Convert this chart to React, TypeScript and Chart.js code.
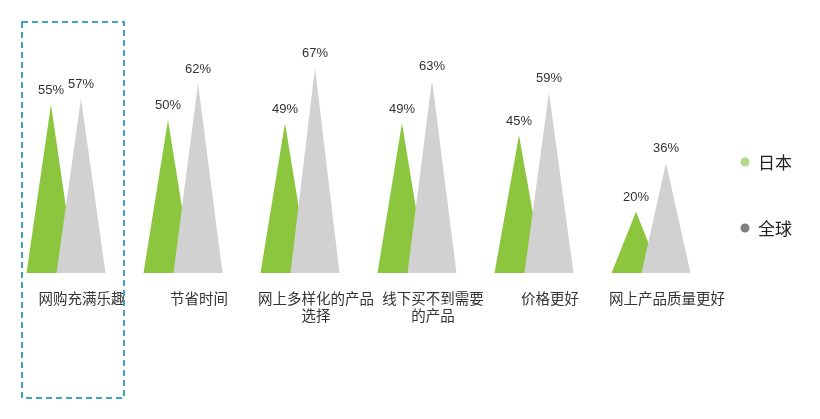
import React, { useEffect, useRef } from "react";
import { Chart, registerables } from "chart.js";

Chart.register(...registerables);

const categories: (string | string[])[] = [
  "网购充满乐趣",
  "节省时间",
  ["网上多样化的产品", "选择"],
  ["线下买不到需要", "的产品"],
  "价格更好",
  "网上产品质量更好",
];
const seriesNames = ["日本", "全球"];
const japanValues = [55, 50, 49, 49, 45, 20];
const globalValues = [57, 62, 67, 63, 59, 36];

const barColors = ["#8cc63f", "#d2d1d2"];
const legendColors = ["#b4d98c", "#7f7f7f"];
const textColor = "#333333";
const boxColor = "#3ea3bd";
const cjkFont = "'Noto Sans CJK SC', 'Noto Sans', sans-serif";
const numFont = "'Liberation Sans', Arial, sans-serif";

const trianglePlugin = {
  id: "triangles",
  beforeDatasetsDraw(chart: any) {
    const ctx = chart.ctx;
    ctx.save();
    chart.data.datasets.forEach((ds: any, di: number) => {
      const meta = chart.getDatasetMeta(di);
      meta.data.forEach((bar: any) => {
        const { x, y, base, width } = bar.getProps(["x", "y", "base", "width"], true);
        ctx.fillStyle = barColors[di];
        ctx.beginPath();
        ctx.moveTo(x - width / 2, base);
        ctx.lineTo(x, y);
        ctx.lineTo(x + width / 2, base);
        ctx.closePath();
        ctx.fill();
      });
    });
    // value labels
    ctx.fillStyle = textColor;
    ctx.font = `13px ${numFont}`;
    ctx.textAlign = "center";
    ctx.textBaseline = "middle";
    chart.data.datasets.forEach((ds: any, di: number) => {
      const meta = chart.getDatasetMeta(di);
      meta.data.forEach((bar: any, i: number) => {
        const { x, y } = bar.getProps(["x", "y"], true);
        ctx.fillText(`${ds.data[i]}%`, x, y - 14);
      });
    });
    ctx.restore();
    return false;
  },
  afterDraw(chart: any) {
    const ctx = chart.ctx;
    const area = chart.chartArea;
    const xs = chart.scales.x;
    ctx.save();
    // dashed highlight box around the first category
    const cx = xs.getPixelForValue(0);
    ctx.strokeStyle = boxColor;
    ctx.lineWidth = 2;
    ctx.setLineDash([6, 4]);
    ctx.strokeRect(cx - 44, 22, 102, 376);
    ctx.setLineDash([]);
    // legend
    ctx.font = `17px ${cjkFont}`;
    ctx.textAlign = "left";
    ctx.textBaseline = "middle";
    chart.data.datasets.forEach((ds: any, di: number) => {
      const lx = area.right + 35.5;
      const ly = area.top + 134 + di * 66;
      ctx.fillStyle = legendColors[di];
      ctx.beginPath();
      ctx.arc(lx, ly, 4.5, 0, Math.PI * 2);
      ctx.fill();
      ctx.fillStyle = "#222222";
      ctx.fillText(ds.label, lx + 13, ly + 1);
    });
    ctx.restore();
  },
};

export default function App() {
  const ref = useRef<HTMLCanvasElement>(null);
  useEffect(() => {
    if (!ref.current) return;
    const chart = new Chart(ref.current, {
      type: "bar",
      data: {
        labels: categories,
        datasets: [
          { label: seriesNames[0], data: japanValues, backgroundColor: barColors[0] },
          { label: seriesNames[1], data: globalValues, backgroundColor: barColors[1] },
        ],
      },
      options: {
        animation: false,
        responsive: true,
        maintainAspectRatio: false,
        layout: { padding: { left: 7.5, right: 110.5, top: 28, bottom: 0 } },
        datasets: {
          bar: { categoryPercentage: 60 / 117, barPercentage: 49 / 30 },
        },
        plugins: { legend: { display: false }, tooltip: { enabled: false } },
        scales: {
          x: {
            grid: { display: false, drawTicks: false },
            border: { display: false },
            afterFit: (s: any) => {
              s.height = 146;
            },
            ticks: {
              padding: 16.5,
              labelOffset: 16,
              maxRotation: 0,
              autoSkip: false,
              color: textColor,
              font: { family: cjkFont, size: 14.5, lineHeight: "17px" },
            },
          },
          y: { display: false, min: 0, max: 80 },
        },
      },
      plugins: [trianglePlugin],
    });
    return () => chart.destroy();
  }, []);
  return (
    <div style={{ position: "fixed", left: 0, top: 0, width: 820, height: 419, background: "#fff" }}>
      <canvas ref={ref} />
    </div>
  );
}
